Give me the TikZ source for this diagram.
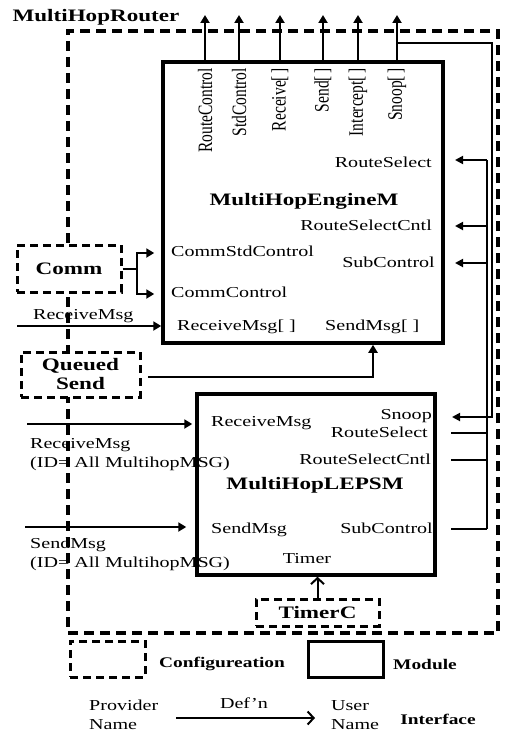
\documentclass[tikz,border=0pt]{standalone}
\usepackage{fontspec}
\setmainfont[FakeStretch=1.32]{Liberation Serif}
\newfontfamily\plainserif{Liberation Serif}
\usetikzlibrary{arrows.meta}
\tikzset{
  lbl/.style={inner sep=0pt, font=\fontsize{15.2}{19}\selectfont, text height=10.5pt, text depth=3pt},
  blbl/.style={inner sep=0pt, font=\bfseries\fontsize{17.5}{20}\selectfont},
  leglbl/.style={inner sep=0pt, font=\bfseries\fontsize{14.7}{18}\selectfont},
  rlbl/.style={inner sep=0pt, rotate=90, anchor=east, font=\plainserif\fontsize{15.5}{18}\selectfont},
  modbox/.style={draw, line width=3.5pt, minimum width=#1, fill=white},
  cfgbox/.style={draw, line width=3pt, dash pattern=on 8pt off 5pt, fill=white, align=center, font=\bfseries\fontsize{17.5}{20}\selectfont},
  outerbox/.style={draw, line width=3.5pt, dash pattern=on 10pt off 6pt},
  conn/.style={line width=2pt},
  arr/.style={line width=2.2pt, -{Triangle[length=8pt,width=9pt]}},
  thinarr/.style={line width=1.8pt, -{Triangle[length=8pt,width=8pt]}},
  thin/.style={line width=1.8pt},
  oarr/.style={line width=2pt, -{Straight Barb[length=6pt,width=13pt,line width=2pt]}},
}
\newcommand{\rtxt}[1]{\scalebox{1}[1.32]{#1}}
\begin{document}
\begin{tikzpicture}[x=1pt,y=-1pt]
\useasboundingbox (0,0) rectangle (504,733);

% title
\node[blbl] (title) at (96,17) {MultiHopRouter};

% outer configuration box
\node[outerbox, minimum width=430pt, minimum height=602pt, inner sep=0pt] (router) at (283,332) {};

% modules
\node[modbox=280pt, minimum height=281pt, inner sep=0pt] (eng) at (303,202.5) {};
\node[modbox=238pt, minimum height=181pt, inner sep=0pt] (lep) at (316,484.5) {};

% configurations
\node[cfgbox, minimum width=104pt, minimum height=47pt, inner sep=0pt] (comm) at (69,268.5) {Comm};
\node[cfgbox, minimum width=119pt, minimum height=45pt, inner sep=0pt] (qs) at (80.5,374.5) {Queued\\[-1pt]Send};
\node[cfgbox, minimum width=123pt, minimum height=27pt, inner sep=0pt] (timerc) at (317.5,612.5) {TimerC};

% top interface arrows
\foreach \n/\x/\t in {t1/205/RouteControl, t2/239/StdControl, t3/280/Receive[\,], t4/323/Send[\,], t5/358/Intercept[\,], t6/397/Snoop[\,]}{
  \coordinate (\n) at (\x,15);
  \draw[arr] (\n |- eng.north) -- (\n);
  \node[rlbl] (l\n) at (\x,68) {\rtxt{\t}};
}

% engine labels
\node[blbl] (engname) at (304,201) {MultiHopEngineM};
\node[lbl, anchor=east] (eRS) at (432,164) {RouteSelect};
\node[lbl, anchor=east] (eRSC) at (432,227) {RouteSelectCntl};
\node[lbl, anchor=east] (eSC) at (435,264) {SubControl};
\node[lbl, anchor=west] (eCSC) at (171,253) {CommStdControl};
\node[lbl, anchor=west] (eCC) at (171,294) {CommControl};
\node[lbl, anchor=west] (eRM) at (177,327) {ReceiveMsg[ ]};
\node[lbl, anchor=west] (eSM) at (325,327) {SendMsg[ ]};

% lepsm labels
\node[blbl] (lepname) at (315,485) {MultiHopLEPSM};
\node[lbl, anchor=west] (lRM) at (211,423) {ReceiveMsg};
\node[lbl, anchor=east] (lSn) at (432,416) {Snoop};
\node[lbl, anchor=east] (lRS) at (428,434) {RouteSelect};
\node[lbl, anchor=east] (lRSC) at (431,461) {RouteSelectCntl};
\node[lbl, anchor=west] (lSM) at (211,530) {SendMsg};
\node[lbl, anchor=east] (lSC) at (433,530) {SubControl};
\node[lbl] (lT) at (307,560) {Timer};

% Comm connections
\coordinate (cj) at (137,268.5);
\draw[conn] (comm.east) -- (cj);
\draw[arr] (cj) |- ([xshift=-7pt]eng.west |- eCSC);
\draw[arr] (cj) |- ([xshift=-7pt]eng.west |- eCC);

% external ReceiveMsg
\coordinate (rmIn) at (17,326);
\draw[arr] (rmIn) -- (eng.west |- rmIn);
\node[lbl, anchor=west] (rmLbl) at (33,316) {ReceiveMsg};

% QueuedSend to SendMsg
\coordinate (qsOut) at (148,377);
\coordinate (qsUp) at (373,377);
\draw[arr] (qsOut) -- (qsUp) -- (qsUp |- eng.south);

% LEPSM left inputs
\coordinate (in1) at (27,424);
\coordinate (in2) at (25,527);
\draw[arr] (in1) -- ([xshift=-3pt]lep.west |- in1);
\draw[arr] (in2) -- ([xshift=-9pt]lep.west |- in2);
\node[lbl, anchor=west, align=left] (in1lbl) at (30,464) {ReceiveMsg\\(ID= All MultihopMSG)};
\node[lbl, anchor=west, align=left] (in2lbl) at (30,564) {SendMsg\\(ID= All MultihopMSG)};

% Snoop route
\coordinate (sj) at (397,43);
\coordinate (sR) at (492,43);
\coordinate (sD) at (492,417);
\coordinate (sE) at (452,417);
\draw[thinarr] (sj) -- (sR) -- (sD) -- (sE);

% right bus
\coordinate (bTop) at (487,160);
\coordinate (bBot) at (487,529);
\draw[thin] (bTop) -- (bBot);
\draw[thinarr] (bTop) -- (455,160);
\draw[thinarr] (487,226) -- (455,226);
\draw[thinarr] (487,263) -- (455,263);
\draw[thin] (451,433) -- (487,433);
\draw[thin] (451,460) -- (487,460);
\draw[thin] (451,529) -- (bBot);

% TimerC to Timer
\draw[oarr] (timerc.north) -- (lep.south -| timerc.north);

% legend
\node[cfgbox, minimum width=75pt, minimum height=36pt, inner sep=0pt] (legcfg) at (107.5,659) {};
\node[leglbl] (legcfgl) at (222,664) {Configureation};
\node[modbox=75pt, minimum height=36pt, line width=3pt, inner sep=0pt] (legmod) at (345.5,659) {};
\node[leglbl] (legmodl) at (425,664) {Module};
\node[lbl, anchor=west, align=left] (prov) at (89,726) {Provider\\Name};
\node[lbl, anchor=west, align=left] (user) at (331,726) {User\\Name};
\node[lbl] (defn) at (244,705) {Def'n};
\draw[oarr] (176,718) -- (315,718);
\node[leglbl] (intf) at (438,719) {Interface};
\end{tikzpicture}
\end{document}
